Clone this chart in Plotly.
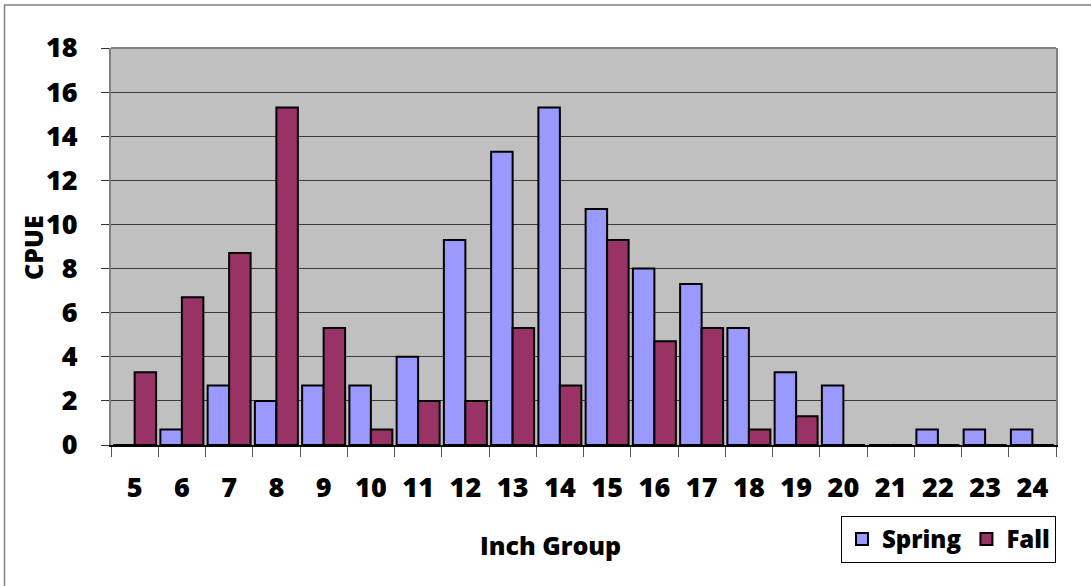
import plotly.graph_objects as go

# Inch groups and catch per unit effort by season
inch_groups = [str(i) for i in range(5, 25)]
spring_cpue = [0, 0.7, 2.7, 2.0, 2.7, 2.7, 4.0, 9.3, 13.3, 15.3,
               10.7, 8.0, 7.3, 5.3, 3.3, 2.7, 0, 0.7, 0.7, 0.7]
fall_cpue = [3.3, 6.7, 8.7, 15.3, 5.3, 0.7, 2.0, 2.0, 5.3, 2.7,
             9.3, 4.7, 5.3, 0.7, 1.3, 0, 0, 0, 0, 0]
y_ticks = list(range(0, 19, 2))

W, H = 1091, 586
ML, MR, MT, MB = 111, 35, 48, 141
PW, PH = W - ML - MR, H - MT - MB

FONT = dict(family="Open Sans", size=25, color="black", weight=800)
TICK_FONT = dict(FONT, size=27)
LEGEND_FONT = dict(FONT, size=24)


def px_x(px):
    return (px - ML) / PW


def px_y(py):
    return (H - MB - py) / PH


fig = go.Figure()
fig.add_trace(go.Bar(
    x=inch_groups, y=spring_cpue, name="Spring",
    marker=dict(color="#9999FF", line=dict(color="black", width=2)),
))
fig.add_trace(go.Bar(
    x=inch_groups, y=fall_cpue, name="Fall",
    marker=dict(color="#993366", line=dict(color="black", width=2)),
))

fig.update_layout(
    width=W, height=H,
    margin=dict(l=ML, r=MR, t=MT, b=MB, pad=0),
    paper_bgcolor="white",
    plot_bgcolor="#C0C0C0",
    barmode="group",
    bargap=0.09,
    bargroupgap=0,
    font=FONT,
    showlegend=True,
    legend=dict(
        orientation="h",
        x=1, xanchor="right",
        y=px_y(516), yanchor="top",
        bgcolor="white",
        bordercolor="black",
        borderwidth=1,
        font=LEGEND_FONT,
        itemwidth=30,
        traceorder="normal",
    ),
    xaxis=dict(
        type="category",
        tickson="boundaries",
        ticks="outside", ticklen=10, tickwidth=1, tickcolor="#555555",
        ticklabelstandoff=18,
        showgrid=False,
        showline=True, linecolor="black", linewidth=1.5, mirror=False,
        tickfont=TICK_FONT,
        fixedrange=True,
    ),
    yaxis=dict(
        range=[0, 18],
        tickvals=y_ticks,
        ticks="outside", ticklen=8, tickwidth=1, tickcolor="#333333",
        ticklabelstandoff=18,
        showgrid=True, gridcolor="#3a3a3a", gridwidth=1,
        zeroline=False,
        showline=True, linecolor="#808080", linewidth=2, mirror=True,
        tickfont=TICK_FONT,
        fixedrange=True,
    ),
    annotations=[
        dict(text="CPUE", textangle=-90, showarrow=False,
             xref="paper", yref="paper", x=px_x(33), y=px_y(248),
             xanchor="center", yanchor="middle", font=FONT),
        dict(text="Inch Group", showarrow=False,
             xref="paper", yref="paper", x=px_x(550), y=px_y(545),
             xanchor="center", yanchor="middle", font=FONT),
    ],
    shapes=[
        # top edge of the plot area
        dict(type="line", xref="paper", yref="paper",
             x0=0, x1=1, y0=1, y1=1,
             line=dict(color="#808080", width=2), layer="above"),
        # outer chart frame
        dict(type="rect", xref="paper", yref="paper",
             x0=px_x(4.5), x1=px_x(1100), y0=px_y(595), y1=px_y(5),
             line=dict(color="#808080", width=1.5), fillcolor="rgba(0,0,0,0)",
             layer="above"),
    ],
)

fig.write_html("out.html")
